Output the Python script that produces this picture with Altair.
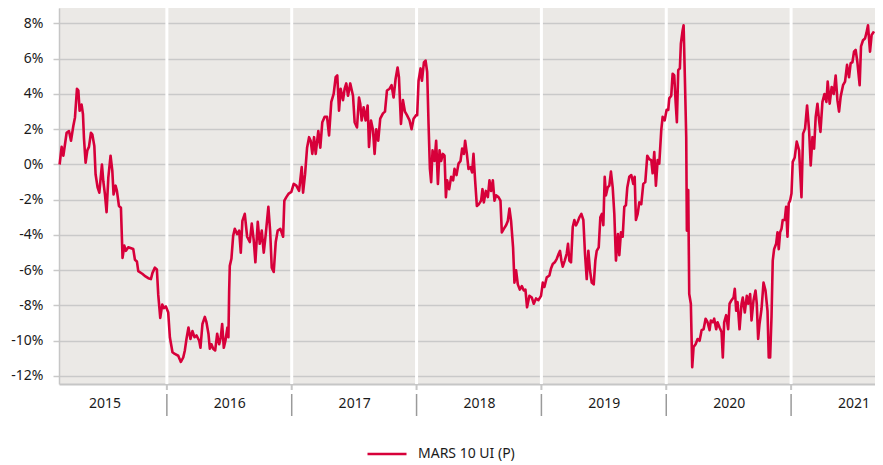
import altair as alt
import pandas as pd

series_name = "MARS 10 UI (P)"

# decimal year positions
dates = [
    2015.141, 2015.157, 2015.171, 2015.184, 2015.197, 2015.216, 2015.232, 2015.251, 2015.264, 2015.280,
    2015.291, 2015.301, 2015.317, 2015.328, 2015.336, 2015.349, 2015.363, 2015.376, 2015.392, 2015.403,
    2015.419, 2015.429, 2015.445, 2015.459, 2015.480, 2015.491, 2015.504, 2015.517, 2015.531, 2015.549,
    2015.563, 2015.573, 2015.589, 2015.600, 2015.616, 2015.632, 2015.645, 2015.659, 2015.672, 2015.691,
    2015.731, 2015.744, 2015.760, 2015.771, 2015.803, 2015.829, 2015.851, 2015.872, 2015.885, 2015.904,
    2015.920, 2015.931, 2015.947, 2015.963, 2015.976, 2015.992, 2016.011,
    2016.024, 2016.045, 2016.064, 2016.091, 2016.112, 2016.131, 2016.144, 2016.157, 2016.173, 2016.189,
    2016.205, 2016.221, 2016.237, 2016.259, 2016.269, 2016.285, 2016.304, 2016.317, 2016.333, 2016.344,
    2016.357, 2016.371, 2016.387, 2016.403, 2016.419, 2016.432, 2016.443, 2016.456, 2016.469, 2016.485,
    2016.493, 2016.499, 2016.504, 2016.517, 2016.531, 2016.544, 2016.563, 2016.579, 2016.592, 2016.605,
    2016.624, 2016.643, 2016.664, 2016.680, 2016.696, 2016.709, 2016.728, 2016.744, 2016.760, 2016.776,
    2016.792, 2016.813, 2016.827, 2016.840, 2016.856, 2016.872, 2016.888, 2016.909, 2016.931, 2016.941,
    2016.957, 2016.976, 2016.997, 2017.016, 2017.037, 2017.059,
    2017.080, 2017.091, 2017.107, 2017.123, 2017.139, 2017.152, 2017.165, 2017.179, 2017.192, 2017.213,
    2017.229, 2017.245, 2017.264, 2017.283, 2017.299, 2017.317, 2017.336, 2017.352, 2017.365, 2017.379,
    2017.392, 2017.411, 2017.424, 2017.437, 2017.451, 2017.469, 2017.491, 2017.504, 2017.523, 2017.539,
    2017.549, 2017.560, 2017.576, 2017.592, 2017.608, 2017.619, 2017.635, 2017.651, 2017.664, 2017.677,
    2017.693, 2017.709, 2017.731, 2017.747, 2017.763, 2017.784, 2017.800, 2017.816, 2017.832, 2017.848,
    2017.859, 2017.875, 2017.891, 2017.907, 2017.923, 2017.944, 2017.960, 2017.976, 2017.997,
    2018.005, 2018.016, 2018.032, 2018.043, 2018.059, 2018.072, 2018.085, 2018.096, 2018.107, 2018.117,
    2018.128, 2018.144, 2018.157, 2018.171, 2018.184, 2018.197, 2018.211, 2018.224, 2018.235, 2018.245,
    2018.261, 2018.277, 2018.293, 2018.304, 2018.320, 2018.336, 2018.352, 2018.365, 2018.379, 2018.389,
    2018.403, 2018.416, 2018.432, 2018.445, 2018.456, 2018.469, 2018.483, 2018.499, 2018.517, 2018.528,
    2018.539, 2018.555, 2018.571, 2018.584, 2018.597, 2018.611, 2018.624, 2018.637, 2018.656, 2018.672,
    2018.683, 2018.699, 2018.717, 2018.731, 2018.744, 2018.757, 2018.773, 2018.784, 2018.797, 2018.811,
    2018.827, 2018.843, 2018.859, 2018.872, 2018.885, 2018.904, 2018.923, 2018.939, 2018.957, 2018.976,
    2018.997,
    2019.011, 2019.024, 2019.043, 2019.064, 2019.077, 2019.091, 2019.107, 2019.123, 2019.139, 2019.149,
    2019.160, 2019.171, 2019.187, 2019.203, 2019.213, 2019.224, 2019.237, 2019.251, 2019.264, 2019.277,
    2019.291, 2019.304, 2019.320, 2019.336, 2019.349, 2019.363, 2019.376, 2019.389, 2019.403, 2019.419,
    2019.432, 2019.443, 2019.459, 2019.472, 2019.485, 2019.496, 2019.507, 2019.517, 2019.531, 2019.544,
    2019.557, 2019.571, 2019.584, 2019.597, 2019.613, 2019.624, 2019.637, 2019.651, 2019.664, 2019.677,
    2019.688, 2019.704, 2019.720, 2019.736, 2019.747, 2019.757, 2019.771, 2019.784, 2019.800, 2019.816,
    2019.832, 2019.848, 2019.864, 2019.880, 2019.891, 2019.904, 2019.917, 2019.931, 2019.944, 2019.960,
    2019.971, 2019.987, 2020.003, 2020.016, 2020.024, 2020.040, 2020.051, 2020.064,
    2020.075, 2020.085, 2020.096, 2020.109, 2020.117, 2020.131, 2020.139, 2020.149, 2020.160, 2020.165,
    2020.176, 2020.184, 2020.197, 2020.208, 2020.219, 2020.235, 2020.251, 2020.267, 2020.283, 2020.299,
    2020.315, 2020.331, 2020.347, 2020.357, 2020.373, 2020.384, 2020.400, 2020.411, 2020.427, 2020.443,
    2020.453, 2020.464, 2020.480, 2020.496, 2020.507, 2020.523, 2020.539, 2020.549, 2020.560, 2020.571,
    2020.587, 2020.603, 2020.613, 2020.629, 2020.645, 2020.656, 2020.672, 2020.683, 2020.699, 2020.715,
    2020.725, 2020.736, 2020.747, 2020.763, 2020.779, 2020.795, 2020.811, 2020.821, 2020.832, 2020.843,
    2020.853, 2020.864, 2020.880, 2020.891, 2020.901, 2020.912, 2020.923, 2020.933, 2020.949, 2020.960,
    2020.971, 2020.981, 2020.992, 2021.003, 2021.013, 2021.029, 2021.045,
    2021.064, 2021.083, 2021.096, 2021.112, 2021.128, 2021.144, 2021.157, 2021.171, 2021.184, 2021.197,
    2021.211, 2021.224, 2021.235, 2021.251, 2021.267, 2021.283, 2021.293, 2021.309, 2021.325, 2021.341,
    2021.357, 2021.371, 2021.384, 2021.397, 2021.416, 2021.432, 2021.448, 2021.464, 2021.477, 2021.491,
    2021.504, 2021.517, 2021.531, 2021.549, 2021.560, 2021.576, 2021.592, 2021.603, 2021.616, 2021.632,
    2021.645, 2021.664,
]

# performance in %
values = [
    0.0, 1.0, 0.5, 1.15, 1.8, 1.9, 1.35, 2.2, 2.67, 4.3,
    4.2, 3.05, 3.4, 2.85, 1.5, 0.1, 0.8, 1.0, 1.8, 1.7,
    1.05, -0.55, -1.3, -1.6, 0.0, -0.95, -1.7, -2.7, -0.75, 0.5,
    -0.35, -1.7, -1.2, -1.5, -2.35, -2.45, -5.3, -4.6, -4.9, -4.7,
    -4.8, -5.4, -5.5, -6.05, -6.2, -6.35, -6.45, -6.5, -6.15, -5.85,
    -5.95, -7.4, -8.7, -7.95, -8.15, -8.05, -8.4,
    -9.8, -10.65, -10.75, -10.85, -11.2, -10.95, -10.55, -9.9, -9.25, -9.9,
    -9.45, -9.8, -9.7, -10.0, -10.4, -9.05, -8.65, -8.95, -9.6, -10.45,
    -10.2, -10.45, -10.55, -9.6, -10.2, -9.8, -9.05, -10.4, -10.0, -9.25,
    -9.8, -7.15, -5.75, -5.35, -4.05, -3.65, -3.95, -3.75, -5.0, -3.2,
    -2.8, -4.1, -4.4, -3.35, -4.3, -5.55, -3.25, -4.5, -3.75, -5.0,
    -3.95, -2.4, -3.75, -5.85, -6.1, -4.4, -3.75, -3.65, -4.1, -2.05,
    -1.85, -1.65, -1.55, -1.1, -1.2, -1.5,
    -0.15, -1.6, -0.55, 0.95, 1.55, 1.35, 0.6, 1.55, 0.6, 1.9,
    0.95, 2.4, 2.7, 2.7, 1.65, 3.55, 4.0, 4.95, 5.05, 3.05,
    4.3, 3.65, 4.3, 4.6, 3.9, 4.6, 3.9, 2.4, 2.1, 3.8,
    3.45, 2.5, 3.25, 2.5, 3.35, 1.0, 2.5, 1.95, 0.6, 2.0,
    1.35, 2.6, 2.9, 3.0, 4.2, 4.3, 4.5, 3.8, 4.85, 5.5,
    4.95, 2.3, 3.65, 3.0, 2.8, 2.5, 2.0, 2.6, 2.8,
    2.8, 4.75, 5.45, 4.75, 5.8, 5.9, 5.25, 2.3, -0.25, -1.0,
    0.8, 0.2, 1.35, -1.1, 0.8, 0.2, 0.6, 0.5, -1.85, -0.9,
    -1.4, -0.7, -0.9, -0.25, -0.6, 0.05, 0.2, 0.9, 0.6, 1.35,
    0.6, -0.25, -0.15, -0.45, 0.6, -0.9, -2.35, -2.25, -2.05, -1.4,
    -2.15, -1.5, -1.85, -0.9, -1.5, -0.9, -2.05, -1.75, -1.85, -2.05,
    -3.85, -3.65, -3.45, -3.2, -2.5, -3.2, -4.7, -6.7, -6.0, -6.8,
    -7.1, -6.9, -7.15, -7.1, -8.1, -7.45, -7.55, -7.9, -7.6, -7.7,
    -7.45,
    -6.7, -6.95, -6.4, -6.3, -5.9, -5.65, -5.55, -5.35, -5.05, -4.9,
    -5.45, -5.8, -5.45, -5.05, -4.5, -5.45, -5.55, -3.55, -3.15, -3.45,
    -3.25, -3.0, -2.8, -3.15, -5.05, -6.5, -4.9, -6.0, -6.7, -6.8,
    -5.45, -4.9, -4.7, -3.0, -2.8, -3.45, -0.7, -1.75, -1.3, -1.2,
    -0.4, -1.3, -2.8, -5.45, -3.95, -5.15, -3.85, -4.1, -2.4, -2.3,
    -1.3, -0.7, -0.6, -1.1, -0.7, -3.15, -2.8, -2.15, -2.25, -1.1,
    -1.0, 0.5, 0.3, 0.25, -0.5, 0.7, -1.2, 0.25, 0.05, 1.95,
    2.7, 2.5, 3.1, 3.1, 3.75, 3.9, 5.15, 5.05,
    3.55, 2.4, 5.35, 5.45, 6.85, 7.6, 7.9, 4.95, 1.55, -3.75,
    -1.45, -7.35, -7.9, -11.5, -10.35, -10.2, -9.9, -10.0, -9.4, -9.35,
    -8.75, -8.95, -9.4, -8.85, -8.95, -8.75, -9.35, -8.95, -9.25, -9.5,
    -10.95, -8.95, -8.55, -9.35, -7.9, -7.7, -7.55, -7.05, -8.3, -7.8,
    -9.35, -7.9, -7.55, -8.4, -7.45, -7.9, -7.35, -8.85, -7.7, -7.15,
    -7.9, -9.9, -9.05, -8.2, -6.7, -7.15, -8.3, -10.95, -10.95, -8.65,
    -5.45, -4.8, -4.5, -3.85, -4.8, -3.85, -3.65, -3.15, -3.15, -2.4,
    -4.1, -2.2, -2.05, -1.65, 0.15, 0.4, 1.3,
    0.8, -1.85, 1.75, 2.05, 3.35, 1.95, -0.05, 1.55, 0.9, 2.7,
    3.45, 2.5, 1.85, 3.55, 4.0, 3.55, 4.7, 3.45, 4.4, 4.0,
    5.05, 3.65, 3.0, 3.85, 4.5, 4.7, 5.65, 4.95, 5.75, 5.8,
    6.4, 6.5, 5.8, 4.5, 6.7, 7.05, 7.15, 7.45, 7.9, 6.4,
    7.35, 7.55,
]

year_labels = [2015, 2016, 2017, 2018, 2019, 2020, 2021]
year_bounds = [2016, 2017, 2018, 2019, 2020, 2021]
y_ticks = [-12, -10, -8, -6, -4, -2, 0, 2, 4, 6, 8]
x_domain = [2015.136, 2021.672]
y_domain = [-12.454, 8.879]

RED = "#d7003a"
FONT = "Noto Sans"
TEXT = "#1a1a1a"

df = pd.DataFrame({"t": dates, "v": values, "s": series_name})
bounds = pd.DataFrame({"t": year_bounds})

xscale = alt.Scale(domain=x_domain, nice=False, zero=False)
yscale = alt.Scale(domain=y_domain, nice=False, zero=False)

x_axis = alt.Axis(
    values=[y + 0.5 for y in year_labels],
    labelExpr="floor(datum.value)",
    ticks=False, tickSize=0, grid=False,
    domainColor="#c6c6c6", domainWidth=2,
    labelFont=FONT, labelFontSize=14, labelColor=TEXT,
    labelPadding=12, title=None,
)
y_axis = alt.Axis(
    values=y_ticks,
    labelExpr="datum.value + '%'",
    grid=True, gridColor="#c9c9c9", gridWidth=1.5,
    tickColor="#c9c9c9", tickSize=6, tickWidth=1.5,
    domainColor="#c6c6c6", domainWidth=1.5,
    labelFont=FONT, labelFontSize=14, labelColor=TEXT,
    labelPadding=10, title=None,
)

X = alt.X("t:Q", scale=xscale, axis=x_axis)

line = alt.Chart(df).mark_line(strokeWidth=2.6, strokeJoin="round").encode(
    x=X,
    y=alt.Y("v:Q", scale=yscale, axis=y_axis),
    color=alt.Color(
        "s:N",
        scale=alt.Scale(range=[RED]),
        legend=alt.Legend(
            title=None, orient="none", legendX=307, legendY=425,
            symbolType="stroke", symbolSize=1521, symbolStrokeWidth=2.5,
            labelFont=FONT, labelFontSize=14, labelColor=TEXT,
            labelOffset=10,
        ),
    ),
)

white_rules = alt.Chart(bounds).mark_rule(color="white", strokeWidth=3).encode(x=X)
small_ticks = alt.Chart(bounds).mark_rule(color="#c6c6c6", strokeWidth=2).encode(
    x=X, y=alt.value(376), y2=alt.value(382)
)
separators = alt.Chart(bounds).mark_rule(color="#9a9a9a", strokeWidth=1.5).encode(
    x=X, y=alt.value(386), y2=alt.value(408)
)

chart = (
    alt.layer(white_rules, small_ticks, separators, line)
    .properties(
        width=816, height=376,
        padding={"left": 51, "top": 0, "right": 0, "bottom": 80},
        autosize=alt.AutoSizeParams(type="none"),
        background="white",
    )
    .configure_view(fill="#ebe9e6", strokeWidth=0)
)

chart.save("out.html", embed_options={"renderer": "svg", "actions": False})
